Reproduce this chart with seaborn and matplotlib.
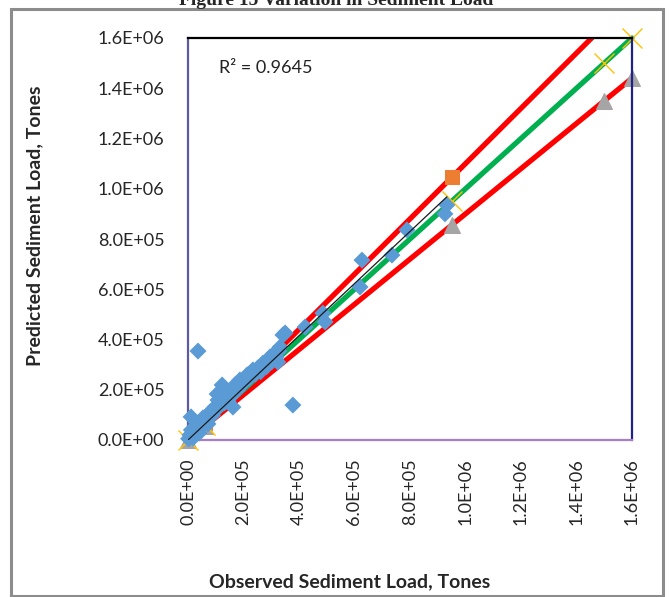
import numpy as np
import pandas as pd
import matplotlib
matplotlib.use("Agg")
import matplotlib.pyplot as plt
from matplotlib.patches import Rectangle
import seaborn as sns

# ---------------- data ----------------
observed = [2000, 7000, 12000, 11000, 32000, 36000, 54000, 79000, 97000, 108000,
            105000, 126000, 123000, 141000, 144000, 162000, 169000, 187000, 213000, 234000,
            252000, 270000, 277000, 295000, 317000, 324000, 328000, 332000, 342000, 350000,
            378000, 422000, 486000, 494000, 620000, 627000, 735000, 789000, 926000, 933000,
            20000, 45000, 60000, 72000, 88000, 100000, 115000, 132000, 150000, 160000,
            178000, 198000, 222000, 242000, 262000, 283000, 302000, 312000, 18000, 40000]
predicted = [5000, 20000, 40000, 92000, 68000, 354000, 88000, 111000, 131000, 159000,
             183000, 171000, 219000, 191000, 155000, 131000, 219000, 239000, 259000, 279000,
             287000, 306000, 295000, 330000, 330000, 310000, 354000, 370000, 418000, 426000,
             139000, 450000, 505000, 470000, 609000, 716000, 736000, 836000, 900000, 935000,
             28000, 48000, 70000, 64000, 98000, 118000, 138000, 148000, 168000, 198000,
             198000, 222000, 246000, 262000, 272000, 292000, 312000, 346000, 8000, 28000]

upper_x = [0, 60000, 950000, 1500000, 1600000]
upper_y = [0, 66000, 1045000, 1650000, 1760000]
lower_x = [0, 60000, 950000, 1500000, 1600000]
lower_y = [0, 54000, 855000, 1350000, 1440000]
equal_x = [0, 60000, 950000, 1500000, 1600000]
equal_y = [0, 60000, 950000, 1500000, 1600000]

tick_vals = [0, 200000, 400000, 600000, 800000, 1000000, 1200000, 1400000, 1600000]
x_tick_labels = ["0.0E+00", "2.0E+05", "4.0E+05", "6.0E+05", "8.0E+05",
                 "1.0E+06", "1.2E+06", "1.4E+06", "1.6E+06"]
y_tick_labels = ["0.0E+00", "2.0E+05", "4.0E+05", "6.0E+05", "8.0E+05",
                 "1.0E+06", "1.2E+06", "1.4E+06", "1.6E+06"]
r2_text = "R² = 0.9645"
title = "Figure 15 Variation in Sediment Load"
xlabel = "Observed Sediment Load, Tones"
ylabel = "Predicted Sediment Load, Tones"

# ---------------- style ----------------
sns.set_style("white")
plt.rcParams['font.family'] = ['Lato', 'DejaVu Sans']

W, H = 670, 597
fig = plt.figure(figsize=(W / 100, H / 100), dpi=100)
L, R, T, B = 188, 632, 38, 440
ax = fig.add_axes([L / W, 1 - B / H, (R - L) / W, (B - T) / H])

df = pd.DataFrame({"obs": observed, "pred": predicted})

# reference lines with markers
sns.lineplot(x=upper_x, y=upper_y, ax=ax, color="#FF0000", linewidth=3.8,
             marker="s", markersize=10, markerfacecolor="#ED7D31",
             markeredgecolor="#ED7D31", zorder=2, sort=False, estimator=None)
sns.lineplot(x=lower_x, y=lower_y, ax=ax, color="#FF0000", linewidth=3.8,
             marker="^", markersize=11, markerfacecolor="#A5A5A5",
             markeredgecolor="#A5A5A5", zorder=2, sort=False, estimator=None,
             clip_on=False)
sns.lineplot(x=equal_x, y=equal_y, ax=ax, color="#00B050", linewidth=3.8,
             marker="x", markersize=14, markeredgecolor="#FFC000",
             markeredgewidth=1.0, zorder=2, sort=False, estimator=None,
             clip_on=False)

# observed vs predicted
sns.scatterplot(data=df, x="obs", y="pred", ax=ax, marker="D", s=75,
                color="#5B9BD5", edgecolor="none", zorder=3, clip_on=False)

# linear trend line (intercept set to zero, as in the spreadsheet trendline)
xo = np.asarray(observed, dtype=float)
yo = np.asarray(predicted, dtype=float)
slope = (xo * yo).sum() / (xo * xo).sum()
trend_x = [xo.min(), xo.max()]
trend_y = [slope * xo.min(), slope * xo.max()]
sns.lineplot(x=trend_x, y=trend_y, ax=ax, color="#1a1a1a", linewidth=0.9,
             zorder=4, sort=False, estimator=None)

ax.set_xlim(0, 1600000)
ax.set_ylim(0, 1600000)
ax.set_xticks(tick_vals)
ax.set_xticklabels(x_tick_labels, rotation=90, fontsize=13)
ax.set_yticks(tick_vals)
ax.set_yticklabels(y_tick_labels, fontsize=13)
ax.tick_params(axis="both", direction="in", length=5, width=1, color="#555577")
ax.tick_params(axis="y", pad=17)
ax.tick_params(axis="x", pad=13)
ax.set_xlabel("")
ax.set_ylabel("")

for side, col in [("top", "#000000"), ("right", "#20208a"),
                  ("left", "#5e5a9e"), ("bottom", "#a77fc7")]:
    ax.spines[side].set_visible(True)
    ax.spines[side].set_color(col)
    ax.spines[side].set_linewidth(1.6)

ax.text(0.07, 0.925, r2_text, transform=ax.transAxes, fontsize=13,
        ha="left", va="center", color="#222222")

fig.text(35 / W, 1 - 226 / H, ylabel, rotation=90, fontsize=14,
         fontweight="bold", ha="center", va="center")
fig.text(350 / W, 1 - 582 / H, xlabel, fontsize=14, fontweight="bold",
         ha="center", va="center")
fig.text(336 / W, 1 - 5 / H, title, fontsize=14, fontweight="bold",
         family=["Liberation Serif", "DejaVu Serif"], ha="center", va="baseline")

# outer chart frame
fig.patches.append(Rectangle((11 / W, 1 - 596 / H), (663 - 11) / W, (596 - 9) / H,
                             transform=fig.transFigure, fill=False,
                             edgecolor="#8c8c8c", linewidth=2.2))

fig.savefig("out.png", dpi=100)
